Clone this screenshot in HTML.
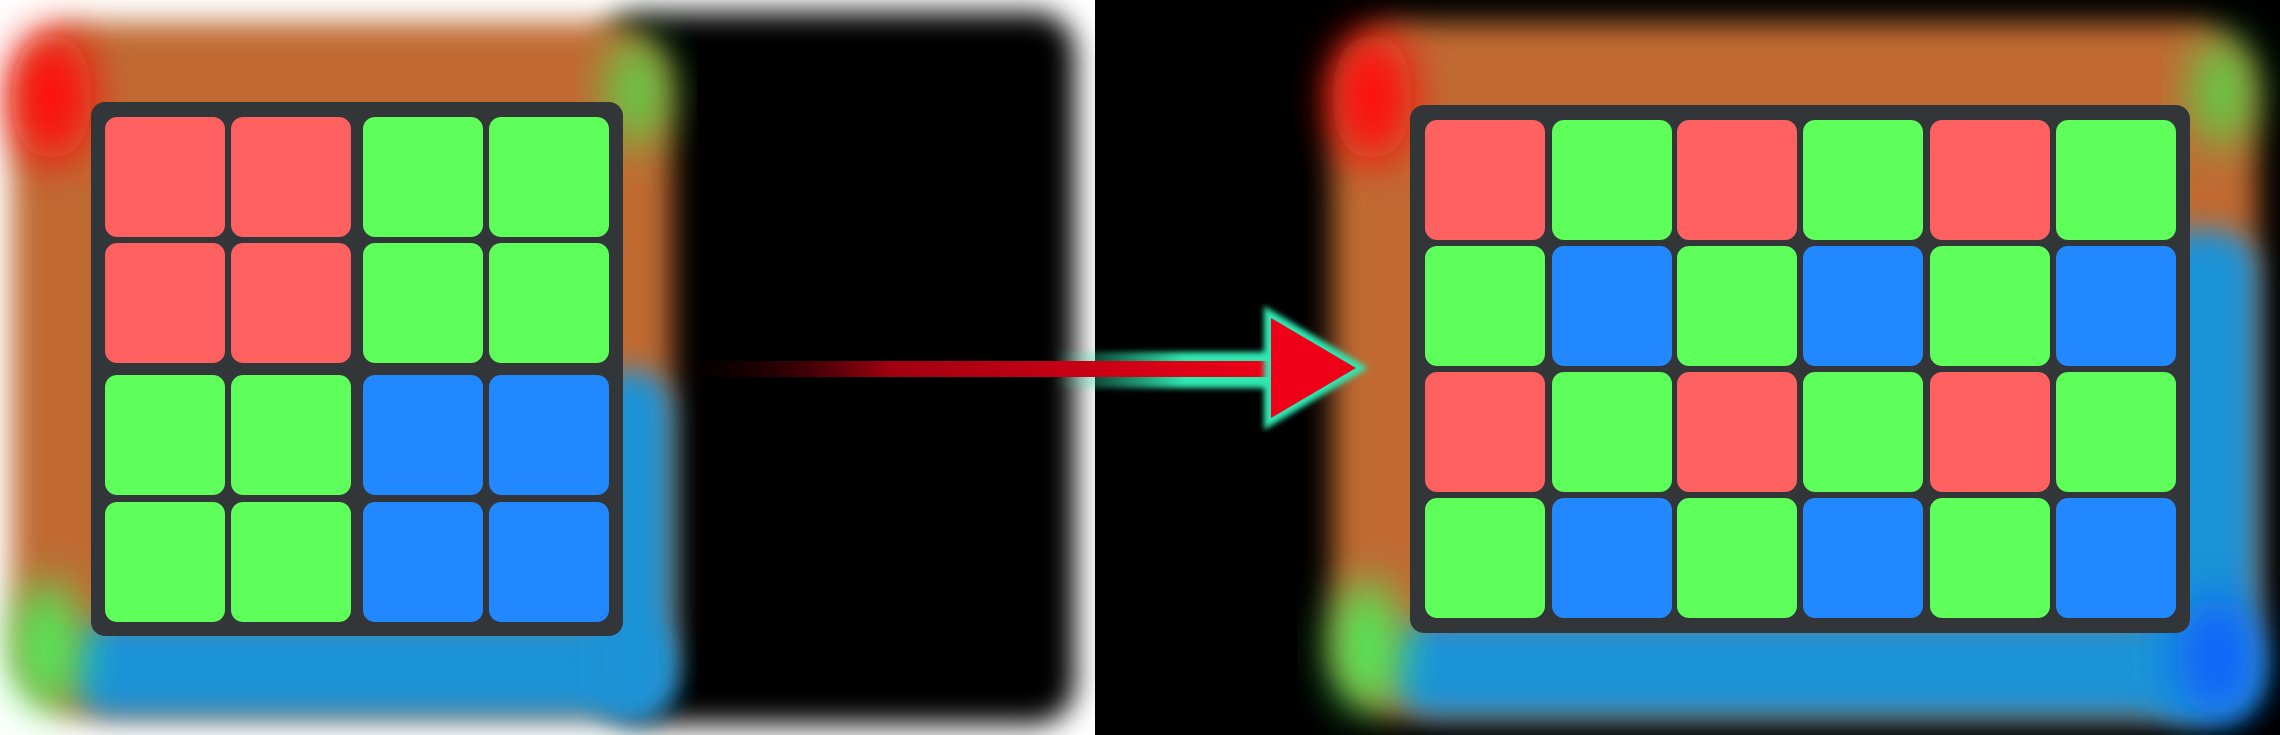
<!DOCTYPE html>
<html><head><meta charset="utf-8"><style>
html,body{margin:0;padding:0;background:#000;}
svg{display:block}
</style></head><body>
<svg id="scene" width="2280" height="735" viewBox="0 0 2280 735" xmlns="http://www.w3.org/2000/svg">
<defs>
<filter id="b40" x="-30%" y="-30%" width="160%" height="160%"><feGaussianBlur stdDeviation="14"/></filter>
<filter id="b20" x="-50%" y="-50%" width="200%" height="200%"><feGaussianBlur stdDeviation="22"/></filter>
<filter id="bs" x="-30%" y="-30%" width="160%" height="160%"><feGaussianBlur stdDeviation="14"/></filter>
<filter id="b6" x="-30%" y="-30%" width="160%" height="160%"><feGaussianBlur stdDeviation="3"/></filter>
<linearGradient id="lineGrad" x1="0" x2="1" y1="0" y2="0">
<stop offset="0" stop-color="#200000" stop-opacity="0"/><stop offset="0.35" stop-color="#a00010"/><stop offset="1" stop-color="#f00018"/></linearGradient>
<linearGradient id="glowLine" x1="0" x2="1"><stop offset="0.4" stop-color="#2fe8b0" stop-opacity="0"/><stop offset="0.75" stop-color="#2fe8b0"/></linearGradient>
</defs>
<rect x="0" y="0" width="1095" height="735" fill="#fff"/>
<rect x="1095" y="0" width="1185" height="735" fill="#000"/>
<rect x="600" y="12" width="475" height="712" rx="40" fill="#000" filter="url(#bs)"/>
<g id="glowL"></g>
<g id="glowR"></g>
<g>
<rect x="900" y="352" width="380" height="36" fill="url(#glowLine)" filter="url(#b6)"/>
<rect x="680" y="361" width="600" height="16" fill="url(#lineGrad)"/>
<polygon points="1264,306 1368,368 1264,430" fill="#2fe8b0" filter="url(#b6)"/>
<polygon points="1271,318 1356,368 1271,418" fill="#f00018"/>
</g>
<g id="boardL"></g>
<g id="boardR"></g>
</svg>
<script>
const leftColors=[["R","R","G","G"],["R","R","G","G"],["G","G","B","B"],["G","G","B","B"]];
const rightColors=[["R","G","R","G","R","G"],["G","B","G","B","G","B"],["R","G","R","G","R","G"],["G","B","G","B","G","B"]];
const leftColX=[105,231,363,489];
const leftRowY=[117,243,375,502];
const rightColX=[1425,1552,1677,1803,1930,2056];
const rightRowY=[120,246,372,498];
const fills={R:"#ff6161",G:"#5eff5a",B:"#2288ff"};
const NS="http://www.w3.org/2000/svg";
function mk(tag,attrs,parent){const e=document.createElementNS(NS,tag);for(const k in attrs)e.setAttribute(k,attrs[k]);parent.appendChild(e);return e;}
function glow(g,x,y,w,h,right){
  let r=mk('rect',{x:x,y:y,width:w,height:h,rx:70,fill:'#c06a30',filter:'url(#b40)'},g);
  
  
  let b=mk('rect',{x:x+60,y:y+h*0.86,width:w-60,height:h*0.14,rx:40,fill:'#1d93d6',filter:'url(#b40)'},g);
  
  
  let rb=mk('rect',{x:x+w-(right?110:80),y:y+h*(right?0.3:0.5),width:(right?110:80),height:h*(right?0.7:0.5),rx:40,fill:'#1d93d6',filter:'url(#b40)'},g);
  
  
  if(right){
  let bc=mk('ellipse',{cx:x+w-40,cy:y+h-60,rx:40,ry:60,fill:'#1060ff',filter:'url(#b20)',opacity:0.9},g);
  
  }
  let rd=mk('ellipse',{cx:x+40,cy:y+75,rx:40,ry:65,fill:'#ff0a0a',filter:'url(#b20)'},g);
  
  
  let g1=mk('ellipse',{cx:x+w-35,cy:y+70,rx:30,ry:55,fill:'#40f050',filter:'url(#b20)',opacity:0.75},g);
  
  
  let g2=mk('ellipse',{cx:x+35,cy:y+h-70,rx:35,ry:65,fill:'#40ff60',filter:'url(#b20)',opacity:0.85},g);
  
  
}
glow(document.getElementById('glowL'),12,22,660,695,false);
glow(document.getElementById('glowR'),1332,22,925,695,true);
function board(g,name,x,y,w,h,colors,cx,ry,cw,ch){
  const bd=mk('rect',{x:x,y:y,width:w,height:h,rx:14,fill:'#333638'},g);
  
  
  colors.forEach((row,i)=>row.forEach((c,j)=>{
    const cell=mk('rect',{x:cx[j],y:ry[i],width:cw,height:ch,rx:12,fill:fills[c]},g);
    
    
  }));
}
board(document.getElementById('boardL'),'left-bayer-board',91,102,532,534,leftColors,leftColX,leftRowY,120,120);
board(document.getElementById('boardR'),'right-bayer-board',1410,105,780,528,rightColors,rightColX,rightRowY,120,120);
</script>
</body></html>
